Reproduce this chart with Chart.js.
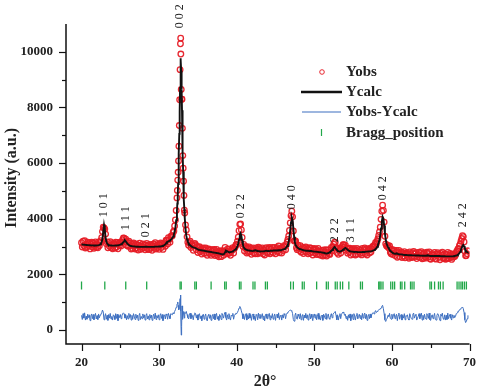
<!DOCTYPE html>
<html><head><meta charset="utf-8">
<script src="https://cdn.jsdelivr.net/npm/chart.js@4.4.1/dist/chart.umd.min.js"></script>
<style>html,body{margin:0;padding:0;background:#fff;}</style>
</head><body>
<canvas id="c" width="480" height="391"></canvas>
<script>
// ---- data ----
const twoTheta = [
20.0,20.1,20.2,20.3,20.4,20.5,20.6,20.7,20.8,20.9,
21.0,21.1,21.2,21.3,21.4,21.5,21.6,21.7,21.8,21.9,
22.0,22.1,22.2,22.3,22.4,22.5,22.6,22.7,22.8,22.9,
23.0,23.1,23.2,23.3,23.4,23.5,23.6,23.7,23.8,23.9,
24.0,24.1,24.2,24.3,24.4,24.5,24.6,24.7,24.8,24.9,
25.0,25.1,25.2,25.3,25.4,25.5,25.6,25.7,25.8,25.9,
26.0,26.1,26.2,26.3,26.4,26.5,26.6,26.7,26.8,26.9,
27.0,27.1,27.2,27.3,27.4,27.5,27.6,27.7,27.8,27.9,
28.0,28.1,28.2,28.3,28.4,28.5,28.6,28.7,28.8,28.9,
29.0,29.1,29.2,29.3,29.4,29.5,29.6,29.7,29.8,29.9,
30.0,30.1,30.2,30.3,30.4,30.5,30.6,30.7,30.8,30.9,
31.0,31.1,31.2,31.3,31.4,31.5,31.6,31.7,31.8,31.9,
32.0,32.1,32.2,32.3,32.35,32.4,32.45,32.5,32.55,32.6,32.65,32.7,32.75,32.78,32.8,32.85,32.9,32.95,
33.0,33.05,33.1,33.15,33.2,33.25,33.3,33.4,33.5,33.6,33.7,33.8,33.9,
34.0,34.1,34.2,34.3,34.4,34.5,34.6,34.7,34.8,34.9,
35.0,35.1,35.2,35.3,35.4,35.5,35.6,35.7,35.8,35.9,
36.0,36.1,36.2,36.3,36.4,36.5,36.6,36.7,36.8,36.9,
37.0,37.1,37.2,37.3,37.4,37.5,37.6,37.7,37.8,37.9,
38.0,38.1,38.2,38.3,38.4,38.5,38.6,38.7,38.8,38.9,
39.0,39.1,39.2,39.3,39.4,39.5,39.6,39.7,39.8,39.9,
40.0,40.1,40.2,40.3,40.4,40.5,40.6,40.7,40.8,40.9,
41.0,41.1,41.2,41.3,41.4,41.5,41.6,41.7,41.8,41.9,
42.0,42.1,42.2,42.3,42.4,42.5,42.6,42.7,42.8,42.9,
43.0,43.1,43.2,43.3,43.4,43.5,43.6,43.7,43.8,43.9,
44.0,44.1,44.2,44.3,44.4,44.5,44.6,44.7,44.8,44.9,
45.0,45.1,45.2,45.3,45.4,45.5,45.6,45.7,45.8,45.9,
46.0,46.1,46.2,46.3,46.4,46.5,46.6,46.7,46.8,46.9,
47.0,47.1,47.2,47.3,47.4,47.5,47.6,47.7,47.8,47.9,
48.0,48.1,48.2,48.3,48.4,48.5,48.6,48.7,48.8,48.9,
49.0,49.1,49.2,49.3,49.4,49.5,49.6,49.7,49.8,49.9,
50.0,50.1,50.2,50.3,50.4,50.5,50.6,50.7,50.8,50.9,
51.0,51.1,51.2,51.3,51.4,51.5,51.6,51.7,51.8,51.9,
52.0,52.1,52.2,52.3,52.4,52.5,52.6,52.7,52.8,52.9,
53.0,53.1,53.2,53.3,53.4,53.5,53.6,53.7,53.8,53.9,
54.0,54.1,54.2,54.3,54.4,54.5,54.6,54.7,54.8,54.9,
55.0,55.1,55.2,55.3,55.4,55.5,55.6,55.7,55.8,55.9,
56.0,56.1,56.2,56.3,56.4,56.5,56.6,56.7,56.8,56.9,
57.0,57.1,57.2,57.3,57.4,57.5,57.6,57.7,57.8,57.9,
58.0,58.1,58.2,58.3,58.4,58.5,58.6,58.7,58.8,58.9,
59.0,59.1,59.2,59.3,59.4,59.5,59.6,59.7,59.8,59.9,
60.0,60.1,60.2,60.3,60.4,60.5,60.6,60.7,60.8,60.9,
61.0,61.1,61.2,61.3,61.4,61.5,61.6,61.7,61.8,61.9,
62.0,62.1,62.2,62.3,62.4,62.5,62.6,62.7,62.8,62.9,
63.0,63.1,63.2,63.3,63.4,63.5,63.6,63.7,63.8,63.9,
64.0,64.1,64.2,64.3,64.4,64.5,64.6,64.7,64.8,64.9,
65.0,65.1,65.2,65.3,65.4,65.5,65.6,65.7,65.8,65.9,
66.0,66.1,66.2,66.3,66.4,66.5,66.6,66.7,66.8,66.9,
67.0,67.1,67.2,67.3,67.4,67.5,67.6,67.7,67.8,67.9,
68.0,68.1,68.2,68.3,68.4,68.5,68.6,68.7,68.8,68.9,
69.0,69.1,69.2,69.3,69.4,69.5,69.6,69.7,69.8];

const yCalc = [
3080,3075,3070,3068,3065,3062,3060,3058,3055,3052,
3050,3048,3045,3045,3045,3045,3040,3040,3040,3040,
3045,3050,3055,3065,3080,3110,3170,3290,3520,3770,
3600,3330,3180,3110,3075,3060,3050,3045,3040,3038,
3035,3035,3035,3035,3040,3040,3045,3050,3055,3060,
3070,3085,3100,3130,3160,3190,3220,3190,3150,3110,
3080,3060,3040,3030,3020,3015,3010,3008,3005,3002,
3000,2998,2995,2995,2995,2992,2990,2990,2990,2990,
2990,2992,2995,2995,2995,2992,2990,2990,2990,2990,
2990,2990,2990,2992,2995,2998,3000,3000,3000,3002,
3005,3008,3010,3015,3020,3030,3040,3055,3080,3120,
3160,3175,3190,3205,3220,3245,3270,3310,3360,3440,
3540,3700,3950,4300,4550,4850,5250,5750,6350,7050,7850,8700,9500,9770,9700,9300,8650,7900,
7100,6350,5700,5150,4700,4350,4050,3650,3400,3260,3180,3120,3080,
3050,3025,3000,2985,2970,2965,2960,2945,2930,2915,
2900,2890,2880,2875,2870,2865,2860,2855,2850,2845,
2840,2835,2830,2825,2820,2815,2810,2805,2800,2795,
2790,2785,2780,2775,2770,2765,2760,2755,2750,2740,
2730,2725,2720,2730,2740,2800,2860,2850,2830,2815,
2800,2800,2800,2810,2820,2835,2850,2870,2890,2920,
2960,3020,3110,3250,3420,3480,3380,3210,3060,2980,
2930,2910,2890,2880,2870,2865,2860,2855,2850,2845,
2840,2845,2850,2860,2870,2860,2850,2845,2840,2835,
2830,2830,2830,2830,2830,2835,2840,2845,2850,2845,
2840,2840,2840,2845,2850,2850,2850,2855,2860,2860,
2860,2860,2860,2865,2870,2870,2870,2875,2880,2890,
2900,2910,2920,2945,2970,3020,3080,3180,3350,3600,
3880,4050,3950,3650,3350,3150,3050,3010,2970,2950,
2930,2920,2910,2900,2890,2880,2870,2865,2860,2855,
2850,2850,2850,2845,2840,2840,2840,2835,2830,2825,
2820,2820,2820,2815,2810,2805,2800,2800,2800,2795,
2790,2785,2780,2770,2760,2755,2750,2760,2770,2785,
2800,2825,2850,2880,2910,2950,2990,2960,2920,2885,
2850,2835,2820,2825,2830,2845,2860,2885,2910,2930,
2950,2930,2910,2885,2860,2845,2830,2825,2820,2818,
2815,2812,2810,2810,2810,2805,2800,2800,2800,2800,
2800,2802,2805,2808,2810,2812,2815,2818,2820,2822,
2825,2828,2830,2835,2840,2850,2860,2875,2890,2915,
2940,2990,3050,3150,3250,3420,3650,3880,4070,4000,
3760,3470,3260,3120,3040,2980,2930,2890,2850,2825,
2800,2780,2760,2750,2740,2750,2760,2745,2730,2725,
2720,2720,2720,2715,2710,2705,2700,2700,2700,2698,
2695,2692,2690,2690,2690,2688,2685,2685,2685,2685,
2680,2680,2680,2680,2680,2678,2675,2675,2675,2672,
2670,2670,2670,2670,2670,2680,2690,2680,2670,2668,
2665,2665,2665,2665,2660,2660,2660,2660,2660,2660,
2660,2660,2660,2658,2655,2655,2655,2655,2655,2652,
2650,2650,2650,2650,2650,2650,2650,2650,2650,2652,
2660,2665,2670,2680,2690,2710,2730,2770,2810,2880,
2960,3030,3060,3010,2930,2870,2830,2800,2790];

// Yobs - Ycalc
const yDiff = [
60,-90,120,-40,150,-110,30,-80,100,-20,
80,-130,40,110,-60,90,-100,20,130,-70,
50,-90,110,-30,70,100,150,250,180,-100,
30,120,-80,60,-120,90,-40,130,-70,20,
-110,80,40,-90,120,-50,100,-130,60,-20,
90,-60,40,120,150,110,-40,80,-100,50,
-70,130,-20,90,-110,60,-80,120,30,-90,
100,-40,70,-120,50,130,-90,20,-60,110,
-30,80,-110,60,120,-70,40,-100,90,-40,
70,-120,30,100,-60,140,-90,50,-30,80,
-100,60,120,-50,90,-130,40,80,-70,110,
60,-80,130,40,-60,120,100,80,150,120,
200,260,350,450,470,540,420,330,260,300,430,660,790,720,220,-650,-350,400,
150,-80,120,200,140,-40,160,130,200,90,-20,-70,60,
140,-60,90,40,-100,80,150,120,-40,80,
-110,90,120,-60,40,-130,70,100,-80,30,
110,-70,-140,60,100,-50,80,-120,30,90,
-60,110,-100,40,130,-80,20,-120,90,50,
-90,130,60,-40,100,170,-20,-110,80,-60,
120,-30,-110,70,40,130,-80,60,100,140,
120,170,230,320,380,330,220,120,-60,100,
-90,40,120,-110,60,-70,130,-40,90,-120,
50,110,-80,30,-130,90,60,-100,140,-40,
100,-60,30,120,-90,40,-140,80,110,-50,
-70,90,130,-100,50,-40,120,-80,20,110,
-120,60,100,-30,150,-90,40,70,-110,80,
-40,120,80,-60,100,140,180,200,230,250,
230,220,120,-90,-150,60,140,-50,-80,100,
40,-60,120,-100,30,90,-120,70,-30,130,
-50,80,-110,40,120,-70,100,-20,-130,60,
110,-40,90,-100,30,130,-80,50,-110,20,
70,-120,100,40,-60,130,-90,20,110,-50,
-80,60,120,-30,90,140,160,200,60,-100,
80,-110,40,120,-60,100,140,180,160,60,
100,-60,30,-120,80,-40,110,-130,50,90,
-90,120,40,-110,60,130,-70,20,100,-50,
60,-100,130,-40,80,140,-60,100,-120,30,
90,-60,110,-30,80,140,160,110,180,230,
160,200,230,250,280,280,330,390,420,300,
120,-100,-160,-90,-40,60,20,130,-50,-80,
100,-60,80,120,-60,40,100,-130,60,140,
-80,30,90,-110,60,-40,120,-100,50,30,
80,-70,-110,120,30,-60,-80,100,140,-40,
60,100,-110,-40,30,120,-60,80,140,-110,
60,-90,100,-30,-80,120,60,-50,140,-100,
-120,40,80,-60,30,130,-90,-110,60,120,
80,-40,-130,100,30,140,-60,-80,80,-110,
60,-90,140,-60,30,100,-40,-110,80,-30,
60,-20,30,120,150,200,200,260,280,310,
330,360,300,160,-100,-200,-150,-60,60];

const diffOffset = 470;

const braggPositions = [20.0,23.0,25.7,28.4,32.7,32.85,34.6,34.8,36.7,38.45,38.65,40.35,40.55,
  42.1,42.35,43.7,43.95,46.95,47.3,48.45,48.7,50.3,51.55,51.8,52.7,52.95,53.35,53.65,54.45,
  55.95,56.2,58.3,58.45,58.6,58.85,59.85,60.1,60.35,61.1,61.3,61.65,62.4,62.6,62.85,
  64.9,65.1,65.5,66.0,66.25,66.6,68.4,68.65,68.9,69.1,69.35,69.6];
const braggLevel = 1600;

const hklLabels = ['1 0 1','1 1 1','0 2 1','0 0 2','0 2 2','0 4 0','2 2 2','3 1 1','0 4 2','2 4 2'];
const hklTwoTheta = [22.92,25.7,28.35,32.7,40.5,47.13,52.68,54.75,58.84,69.2];
const hklBase = [4057,3590,3340,10845,4020,4345,3160,3160,4670,3700];

const xTicks = [20,25,30,35,40,45,50,55,60,65,70];
const yTicks = [0,1000,2000,3000,4000,5000,6000,7000,8000,9000,10000];
const legendLabels = ['Yobs','Ycalc','Yobs-Ycalc','Bragg_position'];

// ---- build ----
const n = Math.min(twoTheta.length, yCalc.length, yDiff.length);
const obsPts = [], calcPts = [], diffPts = [];
for (let i = 0; i < n; i++) {
  obsPts.push({x: twoTheta[i], y: yCalc[i] + yDiff[i]});
  calcPts.push({x: twoTheta[i], y: yCalc[i]});
  diffPts.push({x: twoTheta[i], y: yDiff[i] + diffOffset});
}
const braggPts = braggPositions.map(v => ({x: v, y: braggLevel}));

const RED = 'rgba(230,28,38,0.95)', BLUE = '#3d6fc0', GREEN = '#22a84a', BLACK = '#111';
const SERIF = '"Liberation Serif","Times New Roman",serif';

const overlay = {
  id: 'overlay',
  afterDraw(chart) {
    const ctx = chart.ctx, xs = chart.scales.x, ys = chart.scales.y, a = chart.chartArea;
    ctx.save();
    ctx.strokeStyle = '#111'; ctx.lineWidth = 1.5;
    ctx.beginPath();
    ctx.moveTo(a.left, a.top); ctx.lineTo(a.left, a.bottom); ctx.lineTo(a.right, a.bottom);
    ctx.stroke();
    ctx.lineWidth = 1.2;
    xTicks.forEach(v => {
      const px = Math.round(xs.getPixelForValue(v)) + 0.5, len = v % 10 === 0 ? 7 : 4;
      ctx.beginPath(); ctx.moveTo(px, a.bottom); ctx.lineTo(px, a.bottom + len); ctx.stroke();
    });
    yTicks.forEach(v => {
      const py = Math.round(ys.getPixelForValue(v)) + 0.5, len = v % 2000 === 0 ? 7 : 4;
      ctx.beginPath(); ctx.moveTo(a.left, py); ctx.lineTo(a.left - len, py); ctx.stroke();
    });
    ctx.fillStyle = '#222';
    ctx.font = '12px ' + SERIF;
    ctx.textAlign = 'left'; ctx.textBaseline = 'middle';
    hklLabels.forEach((t, i) => {
      const px = xs.getPixelForValue(hklTwoTheta[i]), py = ys.getPixelForValue(hklBase[i]);
      ctx.save(); ctx.translate(px, py); ctx.rotate(-Math.PI / 2); ctx.fillText(t, 0, 0); ctx.restore();
    });
    const lx = 346, ly = [72, 92, 112, 133];
    ctx.strokeStyle = RED; ctx.lineWidth = 1;
    ctx.beginPath(); ctx.arc(322, ly[0], 2.3, 0, Math.PI * 2); ctx.stroke();
    ctx.strokeStyle = BLACK; ctx.lineWidth = 2.5;
    ctx.beginPath(); ctx.moveTo(301, ly[1]); ctx.lineTo(342, ly[1]); ctx.stroke();
    ctx.strokeStyle = BLUE; ctx.lineWidth = 1.2;
    ctx.beginPath(); ctx.moveTo(302, ly[2]); ctx.lineTo(341, ly[2]); ctx.stroke();
    ctx.strokeStyle = GREEN; ctx.lineWidth = 1.2;
    ctx.beginPath(); ctx.moveTo(321.5, ly[3] - 4); ctx.lineTo(321.5, ly[3] + 3); ctx.stroke();
    ctx.fillStyle = '#222'; ctx.font = 'bold 15px ' + SERIF;
    ctx.textAlign = 'left'; ctx.textBaseline = 'middle';
    legendLabels.forEach((t, i) => ctx.fillText(t, lx, ly[i]));
    ctx.font = 'bold 16px ' + SERIF; ctx.textAlign = 'center';
    ctx.save(); ctx.translate(12, 178); ctx.rotate(-Math.PI / 2); ctx.fillText('Intensity (a.u.)', 0, 0); ctx.restore();
    ctx.fillText('2θ°', 265, 382);
    ctx.restore();
  }
};

new Chart(document.getElementById('c'), {
  type: 'scatter',
  data: {
    datasets: [
      {label: 'Ycalc', data: calcPts, showLine: true, borderColor: BLACK, borderWidth: 1.9, pointRadius: 0, order: 1},
      {label: 'Yobs', data: obsPts, showLine: false, pointStyle: 'circle', pointRadius: 2.8,
       borderColor: RED, backgroundColor: 'rgba(255,255,255,0)', pointBorderWidth: 1.3, order: 2},
      {label: 'Yobs-Ycalc', data: diffPts, showLine: true, borderColor: BLUE, borderWidth: 1, pointRadius: 0, order: 3},
      {label: 'Bragg_position', data: braggPts, showLine: false, pointStyle: 'line', rotation: 90,
       pointRadius: 4, borderColor: GREEN, pointBorderWidth: 1.3, order: 4}
    ]
  },
  options: {
    responsive: false, animation: false, devicePixelRatio: 1,
    layout: {padding: {top: 24, right: 10, left: 0, bottom: 0}},
    plugins: {legend: {display: false}, tooltip: {enabled: false}},
    scales: {
      x: {
        type: 'linear', min: 18, max: 70,
        afterBuildTicks: s => { s.ticks = xTicks.map(v => ({value: v})); },
        afterFit: s => { s.height = 47; },
        grid: {display: false, drawTicks: true, tickLength: 7},
        border: {display: false},
        ticks: {autoSkip: false, maxRotation: 0, padding: 4, color: '#222',
          font: {family: SERIF, size: 13, weight: 'bold'},
          callback: v => (v % 10 === 0 ? String(v) : '')}
      },
      y: {
        type: 'linear', min: -500, max: 11000,
        afterBuildTicks: s => { s.ticks = yTicks.map(v => ({value: v})); },
        afterFit: s => { s.width = 66; },
        grid: {display: false, drawTicks: true, tickLength: 7},
        border: {display: false},
        ticks: {autoSkip: false, padding: 6, color: '#222',
          font: {family: SERIF, size: 13, weight: 'bold'},
          callback: v => (v % 2000 === 0 ? String(v) : '')}
      }
    }
  },
  plugins: [overlay]
});
</script>
</body></html>
